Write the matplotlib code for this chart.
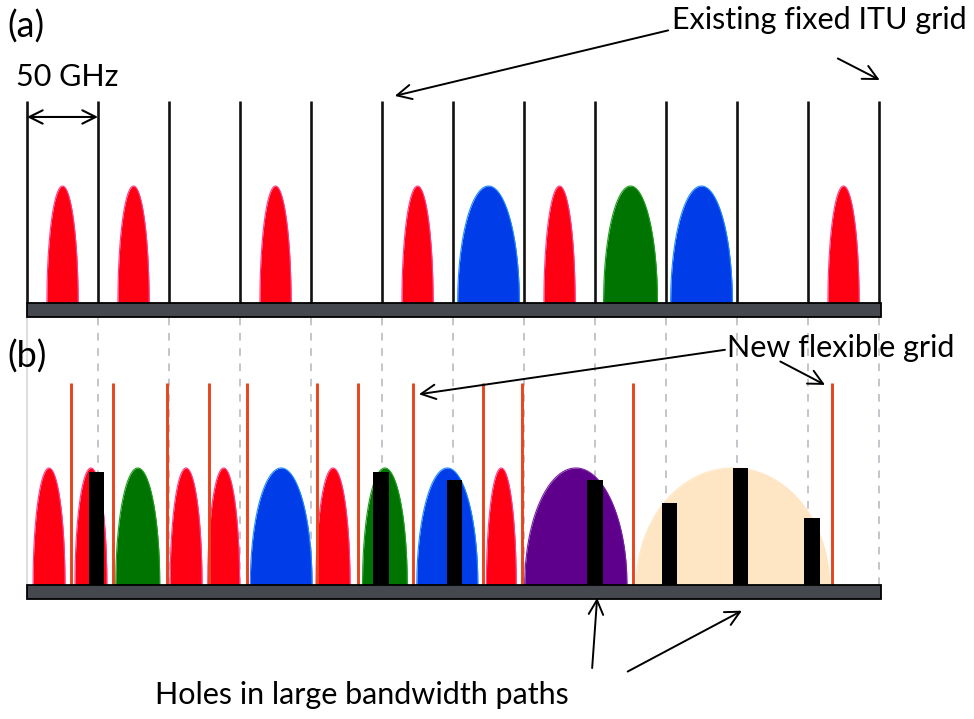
import numpy as np
import matplotlib.pyplot as plt
from matplotlib.patches import Rectangle

plt.rcParams['font.family'] = ['Lato', 'DejaVu Sans']

# x in units of the 50 GHz ITU slot, y in units of peak height
itu_grid = np.arange(13)

# panel (a): channels sit in fixed 50 GHz slots
a_centers = [0.5, 1.5, 3.5, 5.5, 6.5, 7.5, 8.5, 9.5, 11.5]
a_widths = [0.44, 0.44, 0.44, 0.44, 0.87, 0.44, 0.76, 0.87, 0.44]
a_colors = ['red', 'red', 'red', 'red', 'blue', 'red', 'green', 'blue', 'red']

# panel (b): flexible grid
flex_grid = [0.62, 1.21, 1.97, 2.56, 3.10, 4.08, 4.66, 5.44, 6.42, 6.97, 8.54, 11.34]
b_centers = [0.31, 0.90, 1.56, 2.24, 2.77, 3.58, 4.31, 5.04, 5.92, 6.68, 7.73, 9.94]
b_widths = [0.45, 0.45, 0.62, 0.45, 0.45, 0.87, 0.48, 0.63, 0.86, 0.42, 1.44, 2.72]
b_colors = ['red', 'red', 'green', 'red', 'red', 'blue', 'red', 'green', 'blue', 'red',
            'purple', 'peach']

# holes (black bars)
hole_x = [0.98, 4.99, 6.02, 8.0, 9.05, 10.05, 11.06]
hole_h = [0.966, 0.966, 0.897, 0.897, 0.70, 1.0, 0.573]

fill = {'red': '#FF0012', 'blue': '#003CE8', 'green': '#007400',
        'purple': '#5E008C', 'peach': '#FEE6C4'}
edge = {'red': '#FF3C8C', 'blue': '#1E8CFF', 'green': '#1EA01E',
        'purple': '#7A1EA8', 'peach': '#FEE6C4'}

base_a = 0.0
base_b = -2.41
bar_h = 0.12
line_h = 1.73

fig = plt.figure(figsize=(9.74, 7.19), dpi=100)
ax = fig.add_axes([0, 0, 1, 1])
ax.set_xlim(-27 / 71, 947 / 71)
ax.set_ylim(-416 / 117, 303 / 117)
ax.axis('off')


def peak(c, w, col, base):
    t = np.linspace(-1, 1, 300)
    xs = c + t * w / 2
    ys = base + np.sqrt(np.clip(1 - t ** 2, 0, 1))
    ax.fill_between(xs, base, ys, color=fill[col], lw=0, zorder=2)
    ax.plot(xs, ys, color=edge[col], lw=0.8, zorder=2)


# panel (a)
for c, w, col in zip(a_centers, a_widths, a_colors):
    peak(c, w, col, base_a)
ax.vlines(itu_grid, base_a, base_a + line_h, color='#111111', lw=1.9, zorder=3)
ax.add_patch(Rectangle((0, base_a - bar_h), 12.03, bar_h, fc='#46484F', ec='black',
                       lw=1.3, zorder=4))

# dashed guides between panels
ax.vlines(itu_grid[1:], base_b, base_a - bar_h, color='#B4B4BC', lw=1.1,
          linestyles=(0, (5, 5)), zorder=1)
ax.vlines(itu_grid[0], base_b, base_a - bar_h, color='#DADADF', lw=1.3, zorder=1)

# panel (b)
for c, w, col in zip(b_centers, b_widths, b_colors):
    peak(c, w, col, base_b)
ax.vlines(flex_grid, base_b, base_b + line_h, color='#E8441E', lw=2.1, zorder=3)
ax.bar(hole_x, hole_h, width=0.22, bottom=base_b, color='black', zorder=4)
ax.add_patch(Rectangle((0, base_b - bar_h), 12.03, bar_h, fc='#46484F', ec='black',
                       lw=1.3, zorder=4))

fs = 22
ax.text(-0.28, 2.36, '(a)', fontsize=26, ha='left', va='center')
ax.text(-0.28, -0.46, '(b)', fontsize=26, ha='left', va='center')
ax.text(-0.155, 1.93, '50 GHz', fontsize=fs, ha='left', va='center')
ax.annotate('', xy=(0, 1.59), xytext=(1, 1.59),
            arrowprops=dict(arrowstyle='<->', lw=1.5, mutation_scale=24, shrinkA=0, shrinkB=0))

arr = dict(arrowstyle='->', lw=1.4, mutation_scale=26, shrinkA=0, shrinkB=0)
ax.text(9.08, 2.42, 'Existing fixed ITU grid', fontsize=fs, ha='left', va='center')
ax.annotate('', xy=(5.18, 1.77), xytext=(9.03, 2.33), arrowprops=arr)
ax.annotate('', xy=(12.01, 1.906), xytext=(11.42, 2.09), arrowprops=arr)

ax.text(9.86, -0.385, 'New flexible grid', fontsize=fs, ha='left', va='center')
ax.annotate('', xy=(5.52, -0.78), xytext=(9.83, -0.40), arrowprops=arr)
ax.annotate('', xy=(11.24, -0.70), xytext=(10.61, -0.50), arrowprops=arr)

ax.text(1.80, -3.35, 'Holes in large bandwidth paths', fontsize=fs, ha='left', va='center')
ax.annotate('', xy=(8.03, -2.52), xytext=(7.96, -3.12), arrowprops=arr)
ax.annotate('', xy=(10.07, -2.63), xytext=(8.46, -3.15), arrowprops=arr)

fig.savefig('out.png', dpi=100)
